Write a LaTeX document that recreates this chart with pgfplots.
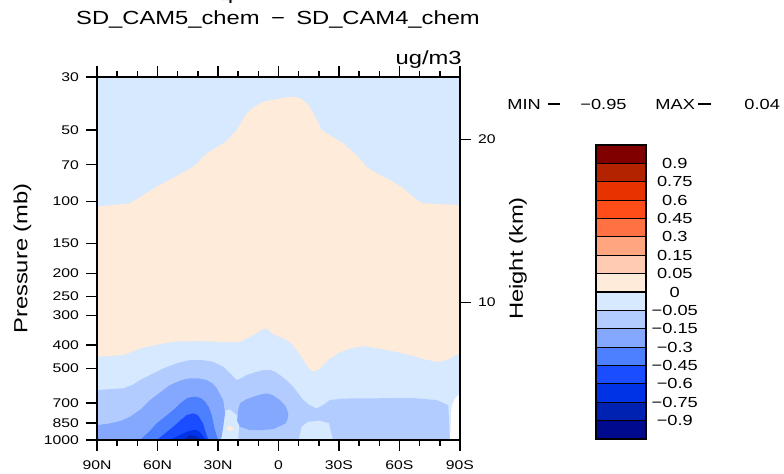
\documentclass[border=0pt]{standalone}
\usepackage{fontspec}
\setmainfont[FakeStretch=1.25]{Liberation Sans}
\usepackage{pgfplots}
\pgfplotsset{compat=1.18}

% NCL-style colour table, blues then reds
\definecolor{nA}{RGB}{0,10,140}
\definecolor{nB}{RGB}{0,34,179}
\definecolor{nC}{RGB}{0,51,230}
\definecolor{nD}{RGB}{26,77,255}
\definecolor{nE}{RGB}{77,128,255}
\definecolor{nF}{RGB}{133,168,255}
\definecolor{nG}{RGB}{179,204,255}
\definecolor{nH}{RGB}{214,233,255}
\definecolor{pA}{RGB}{255,235,217}
\definecolor{pB}{RGB}{255,204,179}
\definecolor{pC}{RGB}{255,166,128}
\definecolor{pD}{RGB}{255,112,67}
\definecolor{pE}{RGB}{255,77,26}
\definecolor{pF}{RGB}{230,51,0}
\definecolor{pG}{RGB}{179,35,0}
\definecolor{pH}{RGB}{128,0,0}

\begin{document}
\begin{tikzpicture}
\useasboundingbox (0,0) rectangle (392pt,237pt);

% main latitude-pressure panel
\begin{axis}[
    at={(48.5pt,17pt)}, anchor=south west,
    width=181.5pt, height=181.5pt, scale only axis,
    xmin=-90, xmax=90, x dir=reverse,
    ymode=log, ymin=30, ymax=1000, y dir=reverse,
    xtick={-90,-60,-30,0,30,60,90},
    xticklabels={90S,60S,30S,0,30N,60N,90N},
    minor x tick num=2,
    xticklabel pos=lower,
    ytick={30,50,70,100,150,200,250,300,400,500,700,850,1000},
    yticklabels={30,50,70,100,150,200,250,300,400,500,700,850,1000},
    yminorticks=false,
    ytick pos=left,
    tick align=outside,
    major tick length=5.5pt, minor tick length=3pt,
    tick style={black, line width=0.7pt},
    axis line style={line width=0.8pt},
    ticklabel style={font=\fontsize{6.3}{7}\selectfont},
    xticklabel style={yshift=-1.5pt},
    ylabel={Pressure (mb)},
    ylabel style={font=\fontsize{9.5}{11}\selectfont, at={(axis description cs:-0.205,0.5)}, anchor=center},
    axis on top,
]
% background level -0.05..0
\addplot[fill=nH, draw=none] coordinates {(-90,30) (90,30) (90,1000) (-90,1000)} -- cycle;
% 0..0.05
\addplot[fill=pA, draw=none] coordinates {
    (90,105) (73.6,101.6) (60.4,86.6) (42.2,71.4) (35.6,62.7) (26,56) (20.7,50.1)
    (17.5,45) (15.8,42.6) (12,40) (7.5,38.1) (0,37) (-5.7,36.3) (-10,36.6) (-12.3,37.5)
    (-15,39.5) (-17.3,42.6) (-21.4,50.1) (-26,53) (-32.1,56.9) (-38,63) (-43.7,71.4)
    (-48,75.5) (-55.3,81.2) (-62,88) (-68.5,98.5) (-71.8,101.6) (-80,102.5) (-90,103.3)
    (-90,433) (-83.4,462) (-78.4,470) (-72,458) (-65.2,440) (-53.7,419) (-42.1,404)
    (-35.5,413) (-30,430) (-25.5,455) (-22.5,480) (-20.6,501) (-17.3,517) (-15.5,505) (-14.0,485) (-11.5,450) (-9.0,419)
    (-6.5,395) (-4.1,381) (0,368) (3.4,357) (5,345) (6.7,340) (9,348) (12.5,363) (19.1,387) (28,388) (38.9,384)
    (52.2,387) (60,398) (68.7,413) (73,428) (77.0,440) (90,448)} -- cycle;
% -0.15..-0.05
\addplot[fill=nG, draw=none] coordinates {
    (90,617) (77.0,607) (72,585) (68.7,561) (63,530) (57.1,501) (50,475) (43.9,462) (38,462) (32.3,470) (27.4,493)
    (23.5,530) (20.7,561) (18,548) (15.8,534) (11,518) (7.5,509) (4.2,509) (1.5,518) (-0.7,534) (-4,562) (-7.3,598) (-12.3,680)
    (-15.5,715) (-18.9,737) (-22,715) (-25.5,680) (-32,670) (-45.4,669) (-65.2,665) (-78.4,680) (-84.2,714)
    (-85,1000) (90,1000)} -- cycle;
% lighter patches near the surface
\addplot[fill=nH, draw=none] coordinates {
    (28.5,760) (24,745) (20.5,790) (19.5,870) (20,1000) (28.5,1000)} -- cycle;
\addplot[fill=nH, draw=none] coordinates {
    (-10,1000) (-11.5,880) (-14.5,840) (-20,830) (-25,850) (-27,1000)} -- cycle;
\addplot[fill=white, draw=none] coordinates {
    (-85,1000) (-85.8,722) (-87.5,670) (-90,637) (-90,1000)} -- cycle;
% -0.3..-0.15
\addplot[fill=nF, draw=none] coordinates {
    (90,866) (83.6,852) (78,830) (73.6,799) (68,740) (63.7,680) (58,625) (53.8,588) (48,560) (43.9,551) (39,552) (35.6,561)
    (32.5,580) (30.6,607) (27.4,680) (26.5,773) (27.4,880) (28.2,970) (29.0,1000) (90,1000)} -- cycle;
\addplot[fill=nF, draw=none] coordinates {
    (20.5,830) (20,750) (19.1,702) (16,675) (12.5,659) (9,645) (5.9,637) (2.5,650) (-0.7,680) (-3.5,720) (-4.9,773)
    (-4.5,820) (-3.5,852) (0,880) (2.6,900) (9.2,910) (14.1,909) (19.1,880)} -- cycle;
% -0.45..-0.3
\addplot[fill=nE, draw=none] coordinates {
    (68.7,1000) (64,920) (60.4,852) (56,795) (52.2,749) (48.5,700) (45.5,669) (43,660) (40.6,659) (38.2,670) (36.4,691)
    (34.5,730) (33.1,786) (31.5,909) (29.9,1000)} -- cycle;
% -0.6..-0.45
\addplot[fill=nD, draw=none] coordinates {
    (60.4,1000) (56,935) (52.2,880) (48.5,825) (45.5,786) (42.2,773) (40.2,785) (38.9,812) (37.5,850) (36.4,909) (34.8,1000)} -- cycle;
% -0.75..-0.6
\addplot[fill=nC, draw=none] coordinates {
    (55,1000) (52.2,985) (48.5,950) (45.5,924) (42.5,908) (40.6,909) (38.8,930) (37.3,970) (35.6,1000)} -- cycle;
% -0.9..-0.75
\addplot[fill=nB, draw=none] coordinates {
    (47.2,1000) (43.9,954) (40.6,970) (38.1,1000)} -- cycle;
% small positive spot
\addplot[fill=pA, draw=none] coordinates {
    (26,894) (24,870) (22,894) (24,920)} -- cycle;
\end{axis}

% height scale on the right
\begin{axis}[
    at={(48.5pt,17pt)}, anchor=south west,
    width=181.5pt, height=181.5pt, scale only axis,
    xmin=0, xmax=1,
    ymode=log, ymin=30, ymax=1000, y dir=reverse,
    axis x line=none, axis y line*=right,
    ytick={54.75,264.4}, yticklabels={20,10},
    yminorticks=false,
    tick align=outside,
    major tick length=5.5pt,
    tick style={black, line width=0.7pt},
    axis line style={line width=0.8pt},
    ticklabel style={font=\fontsize{6.3}{7}\selectfont},
    ylabel={Height (km)},
    ylabel style={font=\fontsize{9.5}{11}\selectfont, at={(axis description cs:1.16,0.5)}, anchor=center},
]
\end{axis}

% colour bar
\begin{axis}[
    at={(298pt,17.5pt)}, anchor=south west,
    width=24.9pt, height=147pt, scale only axis,
    xmin=0, xmax=1, ymin=0, ymax=16,
    xtick=\empty,
    ytick={1,2,3,4,5,6,7,8,9,10,11,12,13,14,15},
    yticklabels={−0.9,−0.75,−0.6,−0.45,−0.3,−0.15,−0.05,0,0.05,0.15,0.3,0.45,0.6,0.75,0.9},
    yticklabel pos=right,
    major tick length=0pt,
    axis line style={line width=0.8pt},
    yticklabel style={font=\fontsize{7.3}{8}\selectfont, anchor=center, xshift=14.5pt},
]
\addplot[fill=nA, draw=black, line width=0.6pt] coordinates {(0,0) (1,0) (1,1) (0,1)} -- cycle;
\addplot[fill=nB, draw=black, line width=0.6pt] coordinates {(0,1) (1,1) (1,2) (0,2)} -- cycle;
\addplot[fill=nC, draw=black, line width=0.6pt] coordinates {(0,2) (1,2) (1,3) (0,3)} -- cycle;
\addplot[fill=nD, draw=black, line width=0.6pt] coordinates {(0,3) (1,3) (1,4) (0,4)} -- cycle;
\addplot[fill=nE, draw=black, line width=0.6pt] coordinates {(0,4) (1,4) (1,5) (0,5)} -- cycle;
\addplot[fill=nF, draw=black, line width=0.6pt] coordinates {(0,5) (1,5) (1,6) (0,6)} -- cycle;
\addplot[fill=nG, draw=black, line width=0.6pt] coordinates {(0,6) (1,6) (1,7) (0,7)} -- cycle;
\addplot[fill=nH, draw=black, line width=0.6pt] coordinates {(0,7) (1,7) (1,8) (0,8)} -- cycle;
\addplot[fill=pA, draw=black, line width=0.6pt] coordinates {(0,8) (1,8) (1,9) (0,9)} -- cycle;
\addplot[fill=pB, draw=black, line width=0.6pt] coordinates {(0,9) (1,9) (1,10) (0,10)} -- cycle;
\addplot[fill=pC, draw=black, line width=0.6pt] coordinates {(0,10) (1,10) (1,11) (0,11)} -- cycle;
\addplot[fill=pD, draw=black, line width=0.6pt] coordinates {(0,11) (1,11) (1,12) (0,12)} -- cycle;
\addplot[fill=pE, draw=black, line width=0.6pt] coordinates {(0,12) (1,12) (1,13) (0,13)} -- cycle;
\addplot[fill=pF, draw=black, line width=0.6pt] coordinates {(0,13) (1,13) (1,14) (0,14)} -- cycle;
\addplot[fill=pG, draw=black, line width=0.6pt] coordinates {(0,14) (1,14) (1,15) (0,15)} -- cycle;
\addplot[fill=pH, draw=black, line width=0.6pt] coordinates {(0,15) (1,15) (1,16) (0,16)} -- cycle;
\end{axis}

% titles and annotations
\node[font=\fontsize{9.5}{11}\selectfont, anchor=base, inner sep=0] at (114pt,235pt) {4};
\node[font=\fontsize{9.5}{11}\selectfont, anchor=center, inner sep=0] at (139pt,227pt)
    {SD\_CAM5\_chem\hspace{0.6em}−\hspace{0.6em}SD\_CAM4\_chem};
\node[font=\fontsize{9.5}{11}\selectfont, anchor=east, inner sep=0] at (231pt,207pt) {ug/m3};
\begin{scope}[every node/.style={font=\fontsize{7.3}{8}\selectfont, anchor=west, inner sep=0}]
\node at (253.5pt,185pt) {MIN};
\node at (274pt,185pt) {\rule[-0.5pt]{6pt}{1.1pt}};
\node at (290pt,185pt) {−0.95};
\node at (327.5pt,185pt) {MAX};
\node at (349pt,185pt) {\rule[-0.5pt]{6.5pt}{1.1pt}};
\node at (372pt,185pt) {0.04};
\end{scope}
\end{tikzpicture}
\end{document}
